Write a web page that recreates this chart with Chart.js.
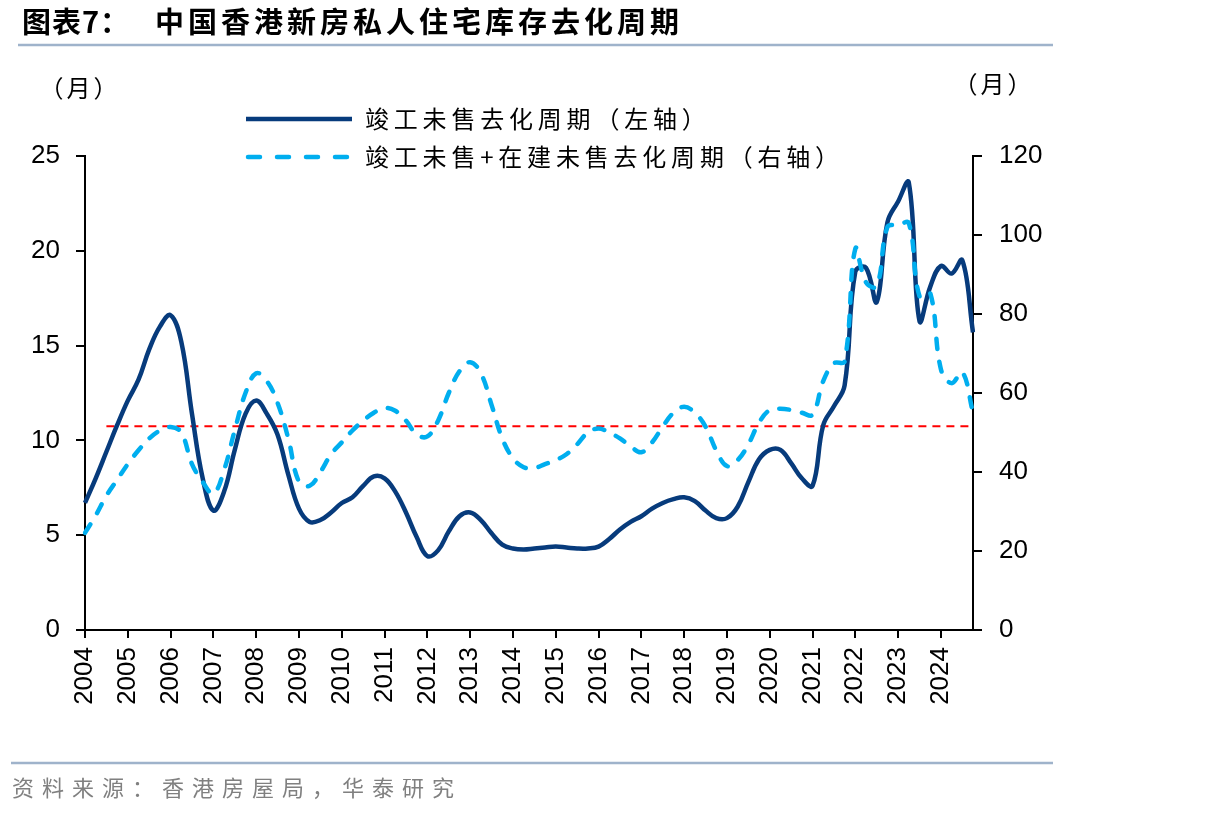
<!DOCTYPE html>
<html>
<head>
<meta charset="utf-8">
<script src="https://cdn.jsdelivr.net/npm/chart.js@4.4.1/dist/chart.umd.min.js"></script>
<style>
  html, body { margin: 0; padding: 0; background: #fff; }
  canvas { display: block; }
</style>
</head>
<body>
<canvas id="chart" width="1206" height="817"></canvas>
<script>
// quarterly categories 2004Q1 .. 2024Q4
const quarters = [];
for (let y = 2004; y <= 2024; y++) {
    for (let q = 1; q <= 4; q++) quarters.push(y + "Q" + q);
}

// 竣工未售去化周期 (left axis, months)
const completedUnsold = [
    6.7, 8.0, 9.4, 10.8,
    12.1, 13.2, 14.8, 16.0,
    16.6, 15.2, 11.4, 8.0,
    6.3, 7.3, 9.5, 11.4,
    12.1, 11.4, 10.3, 8.2,
    6.4, 5.7, 5.8, 6.2,
    6.7, 7.0, 7.6, 8.1,
    8.0, 7.3, 6.2, 4.9,
    3.9, 4.2, 5.2, 6.0,
    6.2, 5.8, 5.1, 4.5,
    4.3, 4.25, 4.3, 4.35,
    4.4, 4.35, 4.3, 4.3,
    4.4, 4.8, 5.3, 5.7,
    6.0, 6.4, 6.7, 6.9,
    7.0, 6.8, 6.3, 5.9,
    5.9, 6.5, 7.8, 9.0,
    9.5, 9.5, 8.8, 8.0,
    7.6, 10.8, 11.8, 12.9,
    18.9, 19.1, 17.3, 21.5,
    22.6, 23.6, 16.3, 18.1,
    19.2, 18.8, 19.5, 15.7
];

// 竣工未售+在建未售去化周期 (right axis, months)
const totalUnsold = [
    24.6, 29, 34, 38,
    42, 45.5, 48.5, 50.5,
    51.4, 50, 42, 37.5,
    34.5, 40.5, 50.6, 60,
    65, 63, 57.5, 48.5,
    37.5, 36.5, 40, 44.5,
    47.5, 50.5, 53, 55,
    56.2, 55.5, 53, 49.5,
    49, 53, 60, 65.5,
    67.8, 65, 57, 48.5,
    43.5, 41.2, 41, 42,
    43, 44.5, 47, 50,
    51, 50, 48.5, 46.5,
    45, 47.5, 51.5, 55,
    56.5, 55, 51.5, 45.5,
    41.5, 43, 47, 52.5,
    55.7, 56, 55.7, 55,
    54.5, 63, 67.5, 68,
    96.5, 88, 87, 102,
    102.5, 103, 84.5, 85.3,
    66, 62.5, 65.3, 55
];

// long-run average of the left series
const avgValue = 10.75;
const avgFrom = "2004Q3";
const avgTo = "2024Q4";

const leftTicks = [0, 5, 10, 15, 20, 25];
const rightTicks = [0, 20, 40, 60, 80, 100, 120];

const navy = "#073B7C";
const sky = "#00AEEF";
const tickFont = { family: "'Liberation Sans', Arial, sans-serif", size: 26 };
const cjk = "'Noto Sans CJK SC', 'Noto Sans', sans-serif";

const decorations = {
    id: "decorations",
    afterDraw(chart) {
        const ctx = chart.ctx;
        ctx.save();

        // title
        ctx.fillStyle = "#000";
        ctx.textBaseline = "middle";
        ctx.font = "bold 29px " + cjk;
        ctx.letterSpacing = "1px";
        ctx.fillText("图表7：", 22, 22);
        ctx.letterSpacing = "4px";
        ctx.fillText("中国香港新房私人住宅库存去化周期", 155, 22);

        // rules
        ctx.strokeStyle = "#9FB3CB";
        ctx.lineWidth = 2.5;
        ctx.beginPath();
        ctx.moveTo(18, 45); ctx.lineTo(1053, 45);
        ctx.moveTo(11, 763); ctx.lineTo(1053, 763);
        ctx.stroke();

        // units
        ctx.font = "24px " + cjk;
        ctx.letterSpacing = "3px";
        ctx.textAlign = "center";
        ctx.fillText("（月）", 80, 88);
        ctx.fillText("（月）", 994, 84);

        // legend
        ctx.textAlign = "left";
        ctx.lineWidth = 4.5;
        ctx.strokeStyle = navy;
        ctx.beginPath();
        ctx.moveTo(246, 119); ctx.lineTo(352, 119);
        ctx.stroke();
        ctx.strokeStyle = sky;
        ctx.lineCap = "round";
        ctx.setLineDash([12, 17]);
        ctx.beginPath();
        ctx.moveTo(248, 157); ctx.lineTo(352, 157);
        ctx.stroke();
        ctx.setLineDash([]);
        ctx.lineCap = "butt";
        ctx.letterSpacing = "4.8px";
        ctx.fillText("竣工未售去化周期（左轴）", 365, 119);
        ctx.fillText("竣工未售+在建未售去化周期（右轴）", 365, 157);

        // source
        ctx.fillStyle = "#808080";
        ctx.font = "22px " + cjk;
        ctx.letterSpacing = "8px";
        ctx.fillText("资料来源：香港房屋局，华泰研究", 12, 788);

        ctx.restore();
    }
};

new Chart(document.getElementById("chart"), {
    type: "line",
    data: {
        labels: quarters,
        datasets: [
            {
                label: "竣工未售+在建未售去化周期（右轴）",
                data: totalUnsold,
                yAxisID: "y1",
                borderColor: sky,
                borderWidth: 4.5,
                borderDash: [10, 13],
                borderCapStyle: "round",
                pointRadius: 0,
                tension: 0.4,
                order: 0
            },
            {
                label: "竣工未售去化周期（左轴）",
                data: completedUnsold,
                yAxisID: "y",
                borderColor: navy,
                borderWidth: 4.5,
                pointRadius: 0,
                tension: 0.4,
                order: 1
            },
            {
                label: "平均",
                data: [{ x: avgFrom, y: avgValue }, { x: avgTo, y: avgValue }],
                yAxisID: "y",
                borderColor: "#FF0000",
                borderWidth: 2,
                borderDash: [8, 6],
                pointRadius: 0,
                tension: 0,
                order: 2
            }
        ]
    },
    options: {
        responsive: false,
        animation: false,
        layout: { padding: { top: 156, left: 0, right: 0, bottom: 0 } },
        plugins: { legend: { display: false }, tooltip: { enabled: false } },
        scales: {
            x: {
                type: "category",
                offset: false,
                border: { color: "#000", width: 2 },
                grid: {
                    drawOnChartArea: false,
                    tickLength: 8,
                    lineWidth: 2,
                    color: c => (quarters[c.index] || "").endsWith("Q1") ? "#000" : "rgba(0,0,0,0)"
                },
                ticks: {
                    autoSkip: false,
                    maxRotation: 90,
                    minRotation: 90,
                    padding: 9,
                    color: "#000",
                    font: tickFont,
                    callback: (v, i) => quarters[i].endsWith("Q1") ? quarters[i].slice(0, 4) : ""
                },
                afterFit: s => { s.height = 187; }
            },
            y: {
                position: "left",
                min: 0,
                max: 25,
                border: { color: "#000", width: 2 },
                grid: { drawOnChartArea: false, tickLength: 9, lineWidth: 2, color: "#000" },
                afterBuildTicks: s => { s.ticks = leftTicks.map(v => ({ value: v })); },
                ticks: { padding: 16, color: "#000", font: tickFont },
                afterFit: s => { s.width = 85; }
            },
            y1: {
                position: "right",
                min: 0,
                max: 120,
                border: { color: "#000", width: 2 },
                grid: { drawOnChartArea: false, tickLength: 9, lineWidth: 2, color: "#000" },
                afterBuildTicks: s => { s.ticks = rightTicks.map(v => ({ value: v })); },
                ticks: { padding: 17, color: "#000", font: tickFont },
                afterFit: s => { s.width = 233; }
            }
        }
    },
    plugins: [decorations]
});
</script>
</body>
</html>
